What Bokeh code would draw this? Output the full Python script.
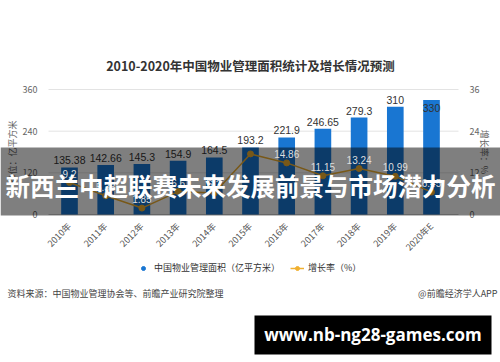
import math
from bokeh.plotting import figure
from bokeh.models import (FactorRange, Range1d, LinearAxis, FixedTicker, ColumnDataSource,
                          LabelSet, Label, BoxAnnotation, Legend, LegendItem)
from bokeh.embed import file_html
from bokeh.resources import INLINE
from bokeh.core.properties import value

# ---------------- data ----------------
years = ["2010年", "2011年", "2012年", "2013年", "2014年", "2015年",
         "2016年", "2017年", "2018年", "2019年", "2020年E"]
area = [135.38, 142.66, 145.3, 154.9, 164.5, 193.2, 221.9, 246.65, 279.3, 310, 330]
growth = [9.2, 5.38, 1.85, 6.6, 6.2, 17.45, 14.86, 11.15, 13.24, 10.99, 6.45]
growth_text = ["9.2", "5.38", "1.85", "6.6", "6.2", "", "14.86", "11.15", "13.24", "10.99", "6.45"]
area_ticks = [0, 120, 240, 360]
growth_ticks = [0, 12, 24, 36]

title_text = "2010-2020年中国物业管理面积统计及增长情况预测"
series_area = "中国物业管理面积（亿平方米）"
series_growth = "增长率（%）"
left_label = "单位：亿平方米"
right_label = "增长率：%"
source_text = "资料来源：中国物业管理协会等、前瞻产业研究院整理"
credit_text = "@前瞻经济学人APP"
banner_text = "新西兰中超联赛未来发展前景与市场潜力分析"
site_text = "www.nb-ng28-games.com"

# ---------------- layout (canvas pixels, top-down) ----------------
CJK = "Noto Sans CJK SC"
W, H = 500, 362
SP = 36.2                        # pixels per category
PAD = (W / SP - len(years)) / 2  # absolute factor padding on each side so the frame spans the canvas
AX_L, AX_R = 48, 458             # chart area left / right
Y0, YTOP = 214, 89               # pixel rows of 0 and of the top tick
K = (Y0 - YTOP) / area_ticks[-1]
KR = (Y0 - YTOP) / growth_ticks[-1]


def sx(px):
    return px / SP - PAD


def sy(py):  # screen units, measured up from the bottom
    return H - py


p = figure(width=W, height=H, output_backend="svg", toolbar_location=None,
           x_range=FactorRange(factors=years, range_padding=PAD, range_padding_units="absolute"),
           y_range=Range1d(-(H - Y0) / K, Y0 / K),
           min_border=0, min_border_left=0, min_border_right=0, min_border_top=0, min_border_bottom=0,
           outline_line_color=None, background_fill_color="white", border_fill_color="white")
p.extra_y_ranges = {"rate": Range1d(-(H - Y0) / KR, Y0 / KR), "legend_only": Range1d(-2, -1)}
p.xgrid.grid_line_color = None
p.ygrid.grid_line_color = None

src_all = ColumnDataSource(dict(x=years, area=area, growth=growth,
                                area_txt=[("%g" % v) for v in area], growth_txt=growth_text))
src_top = ColumnDataSource(dict(x=years[:-1], area=area[:-1], area_txt=[("%g" % v) for v in area[:-1]]))
src_last = ColumnDataSource(dict(x=years[-1:], area=area[-1:], area_txt=[("%g" % v) for v in area[-1:]]))

# grid lines at the tick values, limited to the chart area
grid_src = ColumnDataSource(dict(x0=[sx(AX_L)] * (len(area_ticks) - 1), x1=[sx(AX_R)] * (len(area_ticks) - 1),
                                 y=area_ticks[1:]))
p.segment(x0="x0", x1="x1", y0="y", y1="y", source=grid_src, line_color="#e3e3e3", line_width=1)
p.segment(x0=[sx(AX_L)], x1=[sx(AX_R)], y0=[area_ticks[0]], y1=[area_ticks[0]], line_color="#cccccc", line_width=1)

bars = p.vbar(x="x", top="area", width=0.46, source=src_all, fill_color="#1976d2", line_color=None)
line_r = p.line(x="x", y="growth", source=src_all, y_range_name="rate", line_color="#f0b030", line_width=1.5)
pts_r = p.scatter(x="x", y="growth", source=src_all, y_range_name="rate", size=6,
                  fill_color="#f0b030", line_color="#f0b030")
# circle swatch for the bar series legend entry (its points fall outside the view)
dot_r = p.scatter(x="x", y="area", source=src_all, y_range_name="legend_only", size=8,
                  fill_color="#1976d2", line_color="#1976d2")

# axes (placed inside the full-canvas frame)
left_ax = p.yaxis[0]
left_ax.ticker = FixedTicker(ticks=area_ticks)
left_ax.axis_label = left_label
left_ax.fixed_location = sx(AX_L)
left_ax.bounds = (area_ticks[0], area_ticks[-1])
right_ax = LinearAxis(y_range_name="rate", ticker=FixedTicker(ticks=growth_ticks), axis_label=right_label,
                      fixed_location=sx(AX_R), bounds=(growth_ticks[0], growth_ticks[-1]))
p.add_layout(right_ax, "right")
for ax in [left_ax, right_ax]:
    ax.axis_line_color = None
    ax.major_tick_line_color = None
    ax.minor_tick_line_color = None
    ax.major_label_text_font_size = "9px"
    ax.major_label_text_color = "#666666"
    ax.major_label_text_font = CJK
    ax.major_label_standoff = 5
    ax.axis_label_text_font = CJK
    ax.axis_label_text_font_size = "9px"
    ax.axis_label_text_color = "#666666"
    ax.axis_label_text_font_style = "normal"
left_ax.axis_label_standoff = 1
right_ax.axis_label_standoff = -4

xa = p.xaxis[0]
xa.fixed_location = 0
xa.major_label_orientation = math.pi / 4
xa.major_label_text_font = CJK
xa.major_label_text_font_size = "9px"
xa.major_label_text_color = "#555555"
xa.axis_line_color = None
xa.major_tick_line_color = None
xa.minor_tick_line_color = None
xa.major_label_standoff = 4

# bar value labels
p.add_layout(LabelSet(x="x", y="area", text="area_txt", source=src_top, text_align="center",
                      text_baseline="bottom", y_offset=3, text_font_size="10.5px", text_color="#333333",
                      text_font=value("Liberation Sans"), level="glyph"))
p.add_layout(LabelSet(x="x", y="area", text="area_txt", source=src_last, text_align="center",
                      text_baseline="top", y_offset=-4, text_font_size="10.5px", text_color="#333333",
                      text_font=value("Liberation Sans"), level="glyph"))

# title
p.add_layout(Label(x=W / 2, y=sy(65), x_units="screen", y_units="screen", text=title_text,
                   text_align="center", text_baseline="middle", text_font=CJK,
                   text_font_size="12.5px", text_font_style="bold", text_color="#333333"))

# legend
legend = Legend(items=[LegendItem(label=series_area, renderers=[dot_r]),
                       LegendItem(label=series_growth, renderers=[line_r, pts_r])],
                orientation="horizontal", location=(136, sy(274)), glyph_width=14, glyph_height=10,
                label_height=10, label_standoff=4, spacing=10, padding=0, margin=0,
                border_line_color=None, background_fill_alpha=0, label_text_font=CJK,
                label_text_font_size="9px", label_text_color="#333333")
p.add_layout(legend, "center")

# source lines
p.add_layout(Label(x=7, y=sy(293), x_units="screen", y_units="screen", text=source_text,
                   text_align="left", text_baseline="middle", text_font=CJK,
                   text_font_size="9px", text_color="#444444"))
p.add_layout(Label(x=W - 3, y=sy(293), x_units="screen", y_units="screen", text=credit_text,
                   text_align="right", text_baseline="middle", text_font=CJK,
                   text_font_size="9px", text_color="#444444"))

# dark band overlay
p.add_layout(BoxAnnotation(left=0, right=W, top=sy(147), bottom=sy(215), left_units="screen",
                           right_units="screen", top_units="screen", bottom_units="screen",
                           fill_color="black", fill_alpha=0.5, line_color=None))

# growth labels
p.add_layout(LabelSet(x="x", y="growth", text="growth_txt", source=src_all, y_range_name="rate",
                      text_align="center", text_baseline="bottom", y_offset=5,
                      text_font_size="10px", text_color="#dddddd",
                      text_font=value("Liberation Sans")))

p.add_layout(Label(x=W / 2, y=sy(185), x_units="screen", y_units="screen", text=banner_text,
                   text_align="center", text_baseline="middle", text_font=CJK,
                   text_font_size="24.5px", text_font_style="bold", text_color="white"))

# site box
p.add_layout(BoxAnnotation(left=254, right=491, top=sy(315), bottom=sy(354), left_units="screen",
                           right_units="screen", top_units="screen", bottom_units="screen",
                           fill_color="black", fill_alpha=1, line_color=None))
p.add_layout(Label(x=372.5, y=sy(334), x_units="screen", y_units="screen", text=site_text,
                   text_align="center", text_baseline="middle", text_font="Open Sans",
                   text_font_size="17px", text_font_style="bold", text_color="white"))

open("out.html", "w").write(file_html(p, INLINE))
